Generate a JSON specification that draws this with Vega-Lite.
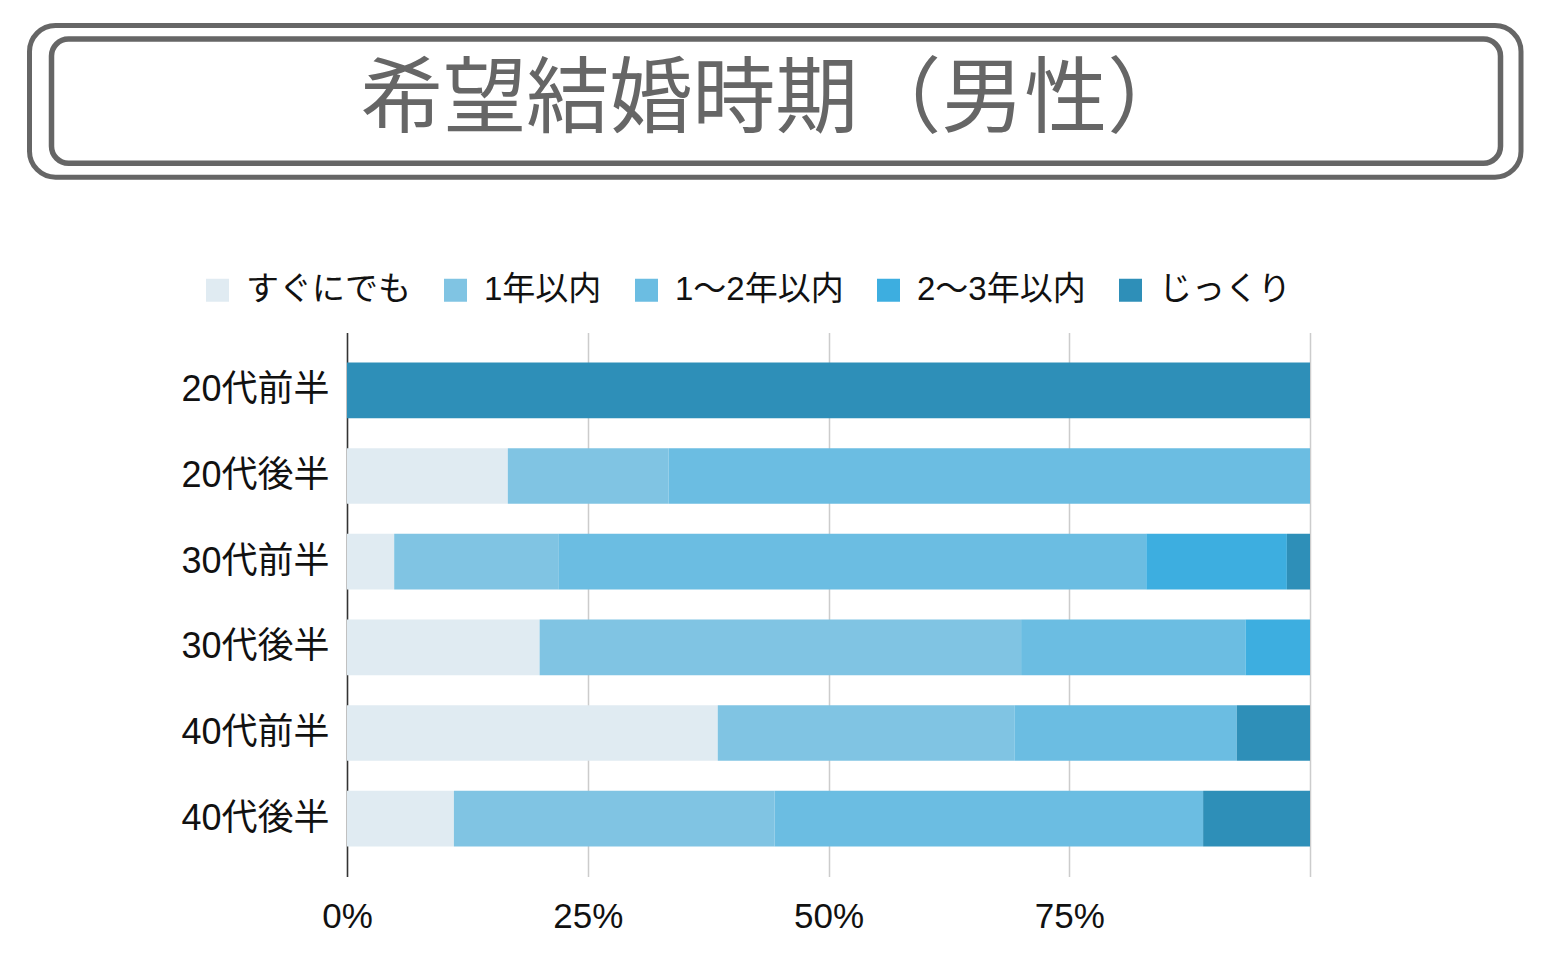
{
  "$schema": "https://vega.github.io/schema/vega-lite/v6.json",
  "padding": {"left": 27, "top": 22.5, "right": 0, "bottom": 0},
  "background": "white",
  "spacing": 93,
  "resolve": {"legend": {"color": "independent"}, "scale": {"color": "independent"}},
  "config": {
    "font": "Liberation Sans, Noto Sans CJK JP",
    "view": {"stroke": null}
  },
  "vconcat": [
    {
      "width": 963,
      "height": 151.7,
      "data": {"values": [{"title": "希望結婚時期（男性）"}]},
      "layer": [
        {
          "mark": {"type": "rect", "fill": null, "stroke": "#666666", "strokeWidth": 5, "cornerRadius": 26, "xOffset": -317.5, "x2Offset": 211},
          "encoding": {"x": {"value": 0}, "x2": {"value": "width"}, "y": {"value": 0}, "y2": {"value": "height"}}
        },
        {
          "mark": {"type": "rect", "fill": null, "stroke": "#666666", "strokeWidth": 5.5, "cornerRadius": 17, "xOffset": -295.5, "x2Offset": 190.5, "yOffset": 13.5, "y2Offset": -14},
          "encoding": {"x": {"value": 0}, "x2": {"value": "width"}, "y": {"value": 0}, "y2": {"value": "height"}}
        },
        {
          "mark": {"type": "text", "font": "Noto Sans CJK JP", "fontSize": 83, "color": "#666666", "align": "center", "baseline": "middle", "dx": -53.25},
          "encoding": {"text": {"field": "title"}}
        }
      ]
    },
    {
      "width": 963,
      "height": 544,
      "data": {"values": [
        {"age": "20代前半", "cat": "じっくり", "pct": 100},
        {"age": "20代後半", "cat": "すぐにでも", "pct": 16.7},
        {"age": "20代後半", "cat": "1年以内", "pct": 16.7},
        {"age": "20代後半", "cat": "1〜2年以内", "pct": 66.6},
        {"age": "30代前半", "cat": "すぐにでも", "pct": 4.9},
        {"age": "30代前半", "cat": "1年以内", "pct": 17.1},
        {"age": "30代前半", "cat": "1〜2年以内", "pct": 61.0},
        {"age": "30代前半", "cat": "2〜3年以内", "pct": 14.6},
        {"age": "30代前半", "cat": "じっくり", "pct": 2.4},
        {"age": "30代後半", "cat": "すぐにでも", "pct": 20.0},
        {"age": "30代後半", "cat": "1年以内", "pct": 50.0},
        {"age": "30代後半", "cat": "1〜2年以内", "pct": 23.3},
        {"age": "30代後半", "cat": "2〜3年以内", "pct": 6.7},
        {"age": "40代前半", "cat": "すぐにでも", "pct": 38.5},
        {"age": "40代前半", "cat": "1年以内", "pct": 30.8},
        {"age": "40代前半", "cat": "1〜2年以内", "pct": 23.1},
        {"age": "40代前半", "cat": "じっくり", "pct": 7.6},
        {"age": "40代後半", "cat": "すぐにでも", "pct": 11.1},
        {"age": "40代後半", "cat": "1年以内", "pct": 33.3},
        {"age": "40代後半", "cat": "1〜2年以内", "pct": 44.5},
        {"age": "40代後半", "cat": "じっくり", "pct": 11.1}
      ]},
      "transform": [
        {"calculate": "indexof(['すぐにでも', '1年以内', '1〜2年以内', '2〜3年以内', 'じっくり'], datum.cat)", "as": "catOrder"}
      ],
      "mark": {"type": "bar"},
      "encoding": {
        "y": {
          "field": "age", "type": "nominal",
          "sort": ["20代前半", "20代後半", "30代前半", "30代後半", "40代前半", "40代後半"],
          "scale": {"paddingInner": 0.35, "paddingOuter": 0.35},
          "axis": {"title": null, "domain": true, "domainColor": "#333333", "domainWidth": 1.5, "ticks": false, "labelFontSize": 36, "labelColor": "#111111", "labelPadding": 18, "minExtent": 317.5, "grid": false}
        },
        "x": {
          "field": "pct", "type": "quantitative", "aggregate": "sum", "stack": "normalize",
          "scale": {"domain": [0, 1], "nice": false},
          "axis": {"title": null, "values": [0, 0.25, 0.5, 0.75, 1], "labelExpr": "datum.value == 1 ? '' : format(datum.value, '.0%')", "labelFlush": false, "domain": false, "ticks": false, "grid": true, "gridColor": "#cccccc", "gridWidth": 1.5, "labelFontSize": 35, "labelColor": "#111111", "labelPadding": 23}
        },
        "order": {"field": "catOrder", "type": "quantitative", "sort": "ascending"},
        "color": {
          "field": "cat", "type": "nominal",
          "sort": ["すぐにでも", "1年以内", "1〜2年以内", "2〜3年以内", "じっくり"],
          "scale": {
            "domain": ["すぐにでも", "1年以内", "1〜2年以内", "2〜3年以内", "じっくり"],
            "range": ["#e0ebf2", "#80c4e3", "#6bbde2", "#3daee0", "#2e8fb8"]
          },
          "legend": {
            "title": null, "orient": "none", "direction": "horizontal",
            "legendX": -146, "legendY": -59,
            "symbolType": "square", "symbolSize": 529, "symbolStrokeWidth": 0,
            "labelFontSize": 33, "labelColor": "#111111", "labelOffset": 12,
            "columnPadding": 28, "labelLimit": 400
          }
        }
      }
    }
  ]
}
